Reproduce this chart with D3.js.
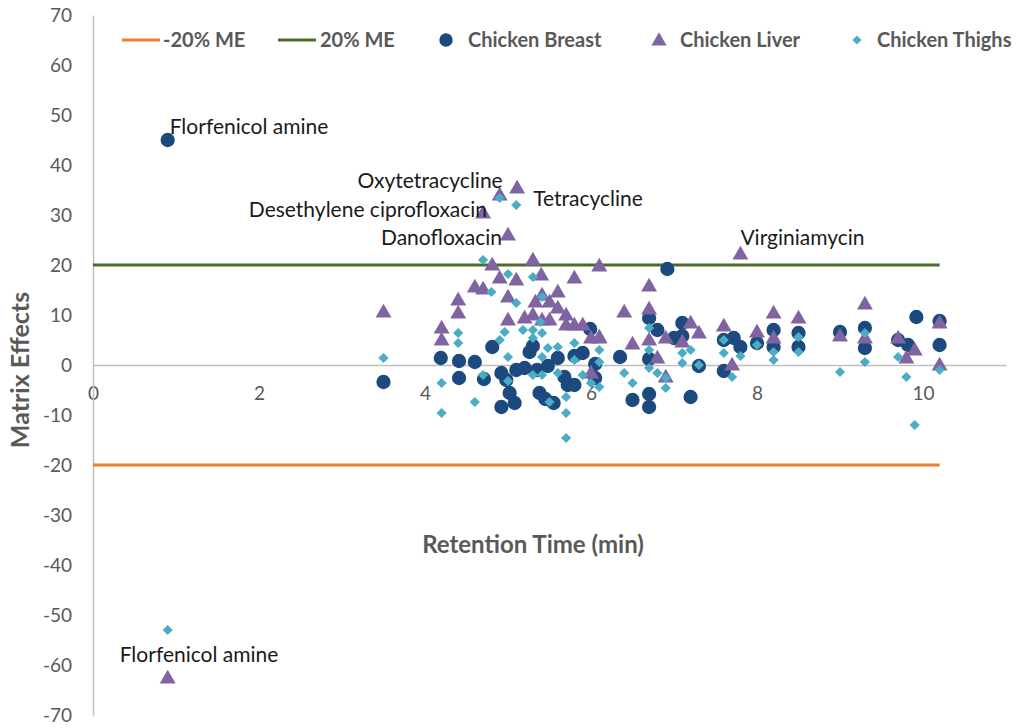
<!DOCTYPE html>
<html><head><meta charset="utf-8">
<script src="https://cdn.jsdelivr.net/npm/d3@7"></script>
<style>body{margin:0;background:#fff}svg{display:block}</style>
</head><body>
<svg id="c" width="1024" height="728"></svg>
<script>
const xTicks = [0, 2, 4, 6, 8, 10];
const yTicks = [-70,-60,-50,-40,-30,-20,-10,0,10,20,30,40,50,60,70];
const meLow = [[0,-20],[10.2,-20]];
const meHigh = [[0,20],[10.2,20]];
const breast = [[0.9,45],[3.5,-3.4],[4.19,1.4],[4.41,0.8],[4.41,-2.6],[4.6,0.6],[4.71,-2.8],[4.81,3.6],[4.92,-1.6],[4.92,-8.4],
[4.98,-3],[5.02,-5.6],[5.08,-7.6],[5.1,-1],[5.2,-0.6],[5.26,2.6],[5.3,3.8],[5.35,-1],[5.38,-5.6],[5.45,-6.8],[5.48,-0.2],
[5.55,-7.6],[5.6,1.4],[5.68,-2.4],[5.72,-4],[5.8,-4],[5.8,1.8],[5.9,2.4],[5.99,7.2],[6.05,0.2],[6.05,-2.6],[6.35,1.6],
[6.5,-7],[6.7,-8.4],[6.7,-5.8],[6.7,9.4],[6.7,1.2],[6.8,7.0],[6.92,19.2],[7.0,5.4],[7.1,8.4],[7.1,5.8],[7.2,-6.4],[7.3,-0.2],
[7.6,-1.2],[7.6,5.0],[7.72,5.4],[7.8,3.6],[8.0,4.4],[8.2,7],[8.2,3.6],[8.5,6.4],[8.5,3.6],[9.0,6.6],[9.3,7.4],[9.3,3.4],
[9.7,5],[9.82,4],[9.92,9.6],[10.2,8.8],[10.2,4]];
const liver = [[0.9,-62.6],[3.5,10.6],[4.2,7.4],[4.2,5],[4.4,13],[4.4,10.4],[4.6,15.6],[4.7,15.2],[4.81,20],[4.9,17.4],[5.0,13.6],[5.0,9],
[4.9,34],[5.11,35.4],[4.7,30.4],[5.0,26],[7.8,22.2],
[5.3,21],[6.1,19.8],[5.1,17],[5.4,18],[5.8,17.4],[5.33,12.6],[5.41,14],[5.5,12.6],[5.6,14.6],[5.2,9.4],[5.3,10],[5.41,9],[5.5,9],
[5.6,11.4],[5.7,10],[5.7,8],[5.8,8],[5.9,8],[6.0,5.4],[6.1,5.6],[6.0,-1.6],
[6.7,15.8],[6.4,10.6],[6.7,11.2],[6.1,5.4],[6.5,4.2],[6.7,5],[6.9,5.4],[6.8,1.4],[6.9,-2.4],[7.2,8.4],[7.3,6.4],[7.1,4.6],
[7.6,7.8],[7.7,0],[8.0,6.6],[8.2,10.4],[8.2,5.4],[8.5,9.4],[9.3,12.2],[9.0,5.8],[9.3,5.4],[9.7,5.4],[9.9,3],[9.8,1.4],[10.2,8.4],[10.2,0]];
const thighs = [[0.9,-53],[3.5,1.4],[4.7,21],[4.4,6.4],[4.4,4.4],[4.2,-3.6],[4.2,-9.6],[4.6,-7.4],[4.7,-2],[4.8,14.6],[4.9,5],[5.0,18.2],
[5.0,1.6],[5.0,-3.2],[4.9,33.4],[5.1,32],
[5.3,17.6],[5.1,12.4],[5.41,13.6],[4.96,6.6],[5.18,7],[5.3,7],[5.41,6.4],[5.3,5.4],[5.39,8.6],[5.48,3.4],[5.6,3.6],[5.41,1.6],
[5.8,4.4],[5.8,1],[5.9,-2],[6.1,0.6],[6.1,3],[5.3,-2],[5.41,-2],[5.6,-1.6],[5.5,-7.4],[5.7,-6.4],[5.7,-9.6],[5.7,-14.6],[6.0,-3.6],[6.1,-4.4],
[6.4,-1.6],[6.5,-3.6],[6.7,7.4],[6.7,3],[6.7,-0.6],[6.8,-1.6],[6.9,-2.6],[6.9,-4.6],[7.1,2.4],[7.1,0.4],[7.2,3],[7.3,0],
[7.6,5],[7.6,2.4],[7.7,-2.4],[7.8,1.8],[8.0,4],[8.2,2.6],[8.2,1],[8.5,5.6],[8.5,2.6],
[9.0,-1.4],[9.3,6.4],[9.3,0.6],[9.7,1.6],[9.8,-2.4],[9.9,-12],[10.2,-1]];
const labels = [
  {t:"Florfenicol amine", x:0.9, y:45, dx:2, dy:-6, a:"start"},
  {t:"Oxytetracycline", x:4.9, y:34, dx:3, dy:-7, a:"end"},
  {t:"Desethylene ciprofloxacin", x:4.7, y:30.4, dx:4, dy:4, a:"end"},
  {t:"Tetracycline", x:5.11, y:35.4, dx:16, dy:18, a:"start"},
  {t:"Danofloxacin", x:5.0, y:26, dx:-6, dy:10, a:"end"},
  {t:"Virginiamycin", x:7.8, y:22.2, dx:0, dy:-9, a:"start"},
  {t:"Florfenicol amine", x:0.9, y:-53, dx:-48, dy:32, a:"start"}
];
const series = [
  {name:"-20% ME", kind:"line", color:"#ED7D31", data:meLow},
  {name:"20% ME", kind:"line", color:"#4F6B2A", data:meHigh},
  {name:"Chicken Breast", kind:"circle", color:"#1C4A7E", data:breast},
  {name:"Chicken Liver", kind:"triangle", color:"#8064A2", data:liver},
  {name:"Chicken Thighs", kind:"diamond", color:"#4BACC6", data:thighs}
];

const svg = d3.select("#c");
const font = "Lato, 'Open Sans', sans-serif";
const x = d3.scaleLinear().domain([0, 11]).range([93, 1006]);
const y = d3.scaleLinear().domain([-70, 70]).range([715, 15]);

const xAxis = svg.append("g").attr("transform", `translate(0,${y(0)})`)
  .call(d3.axisBottom(x).tickValues(xTicks).tickSize(0).tickPadding(22).tickFormat(d => String(d)));
xAxis.select(".domain").attr("stroke", "#BFBFBF").attr("stroke-width", 1.5);
xAxis.selectAll("text").attr("font-family", font).attr("font-size", 19).attr("fill", "#595959");

const yAxis = svg.append("g").attr("transform", `translate(${x(0)},0)`)
  .call(d3.axisLeft(y).tickValues(yTicks).tickSize(0).tickPadding(21).tickFormat(d => String(d)));
yAxis.select(".domain").attr("stroke", "#BFBFBF").attr("stroke-width", 1.5);
yAxis.selectAll("text").attr("font-family", font).attr("font-size", 19).attr("fill", "#595959");

const line = d3.line().x(d => x(d[0])).y(d => y(d[1]));
const sym = {
  circle: d3.symbol().type(d3.symbolCircle).size(160),
  triangle: d3.symbol().type(d3.symbolTriangle).size(110),
  diamond: d3.symbol().type(d3.symbolSquare).size(52)
};
series.forEach(s => {
  if (s.kind === "line") {
    svg.append("path").datum(s.data).attr("d", line).attr("fill", "none")
      .attr("stroke", s.color).attr("stroke-width", 3);
  } else {
    svg.append("g").selectAll("path").data(s.data).join("path")
      .attr("d", sym[s.kind])
      .attr("transform", d => `translate(${x(d[0])},${y(d[1]) + (s.kind==="triangle"?1:0)})` + (s.kind==="diamond"?" rotate(45)":""))
      .attr("fill", s.color);
  }
});

svg.append("g").selectAll("text").data(labels).join("text")
  .attr("x", d => x(d.x) + d.dx).attr("y", d => y(d.y) + d.dy)
  .attr("text-anchor", d => d.a).attr("font-family", font).attr("font-size", 21)
  .attr("fill", "#1a1a1a").text(d => d.t);

svg.append("text").attr("x", 533).attr("y", 553).attr("text-anchor", "middle")
  .attr("font-family", font).attr("font-size", 24).attr("font-weight", "bold").attr("fill", "#595959")
  .text("Retention Time (min)");
svg.append("text").attr("transform", "translate(29,370) rotate(-90)").attr("text-anchor", "middle")
  .attr("font-family", font).attr("font-size", 25).attr("font-weight", "bold").attr("fill", "#595959")
  .text("Matrix Effects");

// legend
const legSym = [122, 278, 437, 650, 848];
const legText = [163, 320, 468, 680, 877];
const leg = svg.append("g");
series.forEach((s, i) => {
  const g = leg.append("g").attr("transform", `translate(${legSym[i]},40)`);
  if (s.kind === "line") {
    g.append("line").attr("x1", 0).attr("x2", 38).attr("stroke", s.color).attr("stroke-width", 3);
  } else {
    g.append("path").attr("d", d3.symbol().type(s.kind==="circle"?d3.symbolCircle:s.kind==="triangle"?d3.symbolTriangle:d3.symbolSquare).size(s.kind==="circle"?140:s.kind==="triangle"?100:42)())
      .attr("transform", `translate(9,${s.kind==="triangle"?1:0})` + (s.kind==="diamond"?" rotate(45)":""))
      .attr("fill", s.color);
  }
  leg.append("text").attr("x", legText[i]).attr("y", 47).attr("font-family", font).attr("font-size", 20)
    .attr("font-weight", "bold").attr("fill", "#595959").text(s.name);
});
</script>
</body></html>
